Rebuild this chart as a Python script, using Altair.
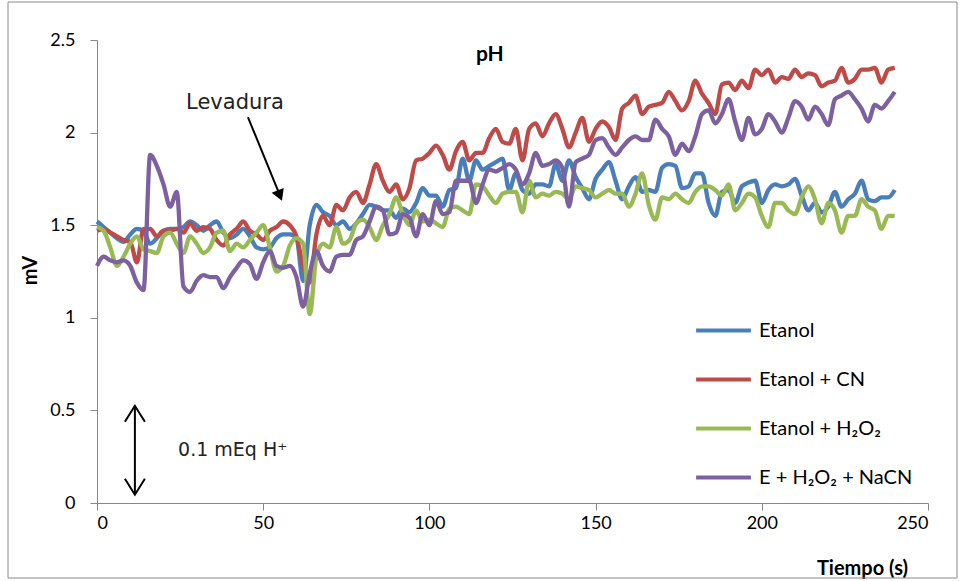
import altair as alt
import pandas as pd

# time axis (s), sampled every 2 s
tiempo = list(range(0, 241, 2))

etanol = [1.52,1.49,1.46,1.43,1.41,1.45,1.48,1.47,1.40,1.43,1.47,1.48,1.48,1.49,1.52,1.50,
          1.47,1.50,1.52,1.46,1.43,1.45,1.48,1.44,1.38,1.37,1.38,1.43,1.45,1.45,1.43,1.20,
          1.50,1.61,1.57,1.55,1.50,1.52,1.48,1.51,1.56,1.61,1.60,1.58,1.58,1.54,1.59,1.57,
          1.62,1.70,1.66,1.66,1.60,1.69,1.70,1.86,1.74,1.85,1.80,1.82,1.84,1.86,
          1.69,1.78,1.69,1.67,1.72,1.72,1.71,1.83,1.74,1.85,1.76,1.70,1.64,1.75,1.80,1.84,
          1.74,1.64,1.71,1.76,1.68,1.69,1.68,1.81,1.83,1.82,1.70,1.71,1.78,1.78,1.62,
          1.55,1.68,1.69,1.62,1.71,1.73,1.74,1.62,1.69,1.72,1.71,1.72,1.75,1.66,1.58,1.62,
          1.57,1.60,1.68,1.60,1.64,1.67,1.74,1.64,1.63,1.65,1.65,1.69]

etanol_cn = [1.47,1.48,1.46,1.44,1.42,1.41,1.30,1.48,1.48,1.44,1.47,1.47,1.48,1.46,1.51,1.47,
             1.49,1.48,1.42,1.39,1.45,1.48,1.52,1.47,1.45,1.42,1.47,1.49,1.52,1.50,1.44,1.28,
             1.19,1.45,1.55,1.50,1.61,1.58,1.65,1.68,1.62,1.72,1.83,1.74,1.68,1.72,1.64,1.70,
             1.85,1.86,1.89,1.93,1.88,1.80,1.90,1.95,1.85,1.89,1.89,1.97,2.02,1.95,
             1.94,2.02,1.85,2.02,2.05,1.98,2.05,2.10,2.02,1.92,2.00,2.08,1.95,2.02,2.06,2.03,
             1.96,2.13,2.16,2.20,2.10,2.14,2.15,2.16,2.22,2.17,2.12,2.17,2.28,2.21,2.16,
             2.10,2.26,2.27,2.23,2.28,2.24,2.34,2.31,2.34,2.27,2.30,2.29,2.34,2.30,2.32,2.31,
             2.25,2.27,2.28,2.35,2.27,2.29,2.34,2.34,2.35,2.27,2.34,2.35]

etanol_h2o2 = [1.49,1.47,1.38,1.28,1.33,1.40,1.44,1.37,1.36,1.35,1.44,1.46,1.40,1.35,1.44,1.40,
               1.35,1.38,1.46,1.47,1.36,1.40,1.38,1.42,1.46,1.50,1.38,1.25,1.28,1.39,1.43,1.40,
               1.02,1.33,1.40,1.38,1.49,1.40,1.42,1.51,1.53,1.49,1.42,1.50,1.56,1.65,1.56,1.50,
               1.58,1.52,1.53,1.51,1.49,1.59,1.60,1.58,1.56,1.72,1.71,1.66,1.62,1.67,
               1.68,1.68,1.57,1.74,1.65,1.67,1.66,1.68,1.67,1.64,1.71,1.70,1.69,1.65,1.67,1.69,
               1.67,1.67,1.60,1.67,1.78,1.61,1.53,1.65,1.64,1.67,1.64,1.62,1.68,1.71,1.71,
               1.69,1.66,1.72,1.58,1.62,1.67,1.65,1.55,1.49,1.62,1.62,1.58,1.56,1.65,1.71,1.64,
               1.51,1.62,1.58,1.46,1.55,1.55,1.64,1.60,1.58,1.48,1.55,1.55]

e_h2o2_nacn = [1.28,1.33,1.31,1.30,1.31,1.28,1.19,1.15,1.88,1.82,1.72,1.60,1.68,1.17,1.14,1.20,
               1.23,1.22,1.22,1.16,1.22,1.27,1.31,1.29,1.21,1.30,1.36,1.28,1.27,1.28,1.22,1.06,
               1.24,1.36,1.28,1.25,1.33,1.34,1.34,1.42,1.44,1.52,1.60,1.58,1.45,1.46,1.56,1.54,
               1.44,1.56,1.50,1.63,1.56,1.57,1.74,1.74,1.74,1.62,1.72,1.80,1.79,1.81,
               1.83,1.80,1.72,1.78,1.89,1.82,1.83,1.85,1.81,1.60,1.84,1.86,1.88,1.96,1.97,1.92,
               1.88,1.92,1.96,1.98,1.96,1.96,2.07,2.02,1.98,1.88,1.94,1.90,1.98,2.10,2.12,
               2.05,2.10,2.18,2.06,1.96,2.08,1.99,2.02,2.10,2.06,2.00,2.08,2.17,2.14,2.07,2.14,
               2.10,2.04,2.18,2.20,2.22,2.18,2.13,2.06,2.15,2.13,2.17,2.22]

series_names = ["Etanol", "Etanol + CN", "Etanol + H\u2082O\u2082", "E + H\u2082O\u2082 + NaCN"]
series_values = [etanol, etanol_cn, etanol_h2o2, e_h2o2_nacn]
series_colors = ["#4A7EBB", "#BE4B48", "#98B954", "#7D60A0"]

x_ticks = [0, 50, 100, 150, 200, 250]
y_ticks = [0, 0.5, 1, 1.5, 2, 2.5]

rows = []
for i, (name, vals) in enumerate(zip(series_names, series_values)):
    for t, v in zip(tiempo, vals):
        rows.append({"t": t, "v": v, "serie": name, "orden": i})
df = pd.DataFrame(rows)

xs = alt.Scale(domain=[0, 250], nice=False)
ys = alt.Scale(domain=[0, 2.5], nice=False)

lines = alt.Chart(df).mark_line(interpolate="monotone", strokeWidth=4.3).encode(
    x=alt.X("t:Q", scale=xs,
            axis=alt.Axis(values=x_ticks, title="Tiempo (s)", grid=False,
                          domainColor="#878787", tickColor="#878787", tickSize=7,
                          labelFont="Lato", labelFontSize=18, labelColor="#000",
                          labelPadding=4, titleFont="Lato", titleFontSize=20,
                          titleFontWeight="bold", titleColor="#000",
                          titleX=765, titleY=65, titleAlign="center",
                          titleBaseline="middle")),
    y=alt.Y("v:Q", scale=ys,
            axis=alt.Axis(values=y_ticks, format="~g", title="mV", grid=False,
                          domainColor="#878787", tickColor="#878787", tickSize=7,
                          labelFont="Lato", labelFontSize=18, labelColor="#000",
                          labelPadding=15, titleFont="Lato", titleFontSize=20,
                          titleFontWeight="bold", titleColor="#000",
                          titleX=-67, titleY=230, titleAngle=270,
                          titleAlign="center", titleBaseline="middle")),
    color=alt.Color("serie:N",
                    scale=alt.Scale(domain=series_names, range=series_colors),
                    sort=series_names,
                    legend=alt.Legend(orient="none", legendX=597, legendY=261,
                                      title=None, symbolType="stroke",
                                      symbolSize=3000, symbolStrokeWidth=3.8,
                                      labelFont="Lato", labelFontSize=20,
                                      labelColor="#000", labelLimit=400,
                                      labelOffset=6, rowPadding=9)),
    order=alt.Order("orden:Q"),
    detail="serie:N",
)

# annotations
ann_text = pd.DataFrame({"t": [41.5], "v": [2.16], "txt": ["Levadura"]})
levadura = alt.Chart(ann_text).mark_text(font="DejaVu Sans", fontSize=21,
                                         color="#222", align="center",
                                         baseline="middle").encode(
    x=alt.X("t:Q", scale=xs), y=alt.Y("v:Q", scale=ys), text="txt:N")

arrow_line = pd.DataFrame({"t": [45.4], "v": [2.084], "t2": [54.6], "v2": [1.68]})
arrow1 = alt.Chart(arrow_line).mark_rule(color="#000", strokeWidth=2).encode(
    x=alt.X("t:Q", scale=xs), y=alt.Y("v:Q", scale=ys), x2="t2:Q", y2="v2:Q")
arrow_head = pd.DataFrame({"t": [55.0], "v": [1.66]})
head1 = alt.Chart(arrow_head).mark_point(shape="triangle-up", filled=True,
                                         color="#000", size=170, angle=158,
                                         opacity=1).encode(
    x=alt.X("t:Q", scale=xs), y=alt.Y("v:Q", scale=ys))

scale_bar = pd.DataFrame({"t": [11.4], "v": [0.045], "v2": [0.525]})
bar = alt.Chart(scale_bar).mark_rule(color="#000", strokeWidth=2).encode(
    x=alt.X("t:Q", scale=xs), y=alt.Y("v:Q", scale=ys), y2="v2:Q")
top_head = alt.Chart(pd.DataFrame({"t": [11.4], "v": [0.525]})).mark_point(
    shape="M-1,1.6L0,0L1,1.6", filled=False, color="#000", strokeWidth=2,
    size=400, opacity=1).encode(x=alt.X("t:Q", scale=xs), y=alt.Y("v:Q", scale=ys))
bot_head = alt.Chart(pd.DataFrame({"t": [11.4], "v": [0.045]})).mark_point(
    shape="M-1,-1.6L0,0L1,-1.6", filled=False, color="#000", strokeWidth=2,
    size=400, opacity=1).encode(x=alt.X("t:Q", scale=xs), y=alt.Y("v:Q", scale=ys))

meq = alt.Chart(pd.DataFrame({"t": [24.4], "v": [0.286], "txt": ["0.1 mEq H\u207a"]})).mark_text(
    font="DejaVu Sans", fontSize=19, color="#222", align="left",
    baseline="middle").encode(x=alt.X("t:Q", scale=xs), y=alt.Y("v:Q", scale=ys), text="txt:N")

ph = alt.Chart(pd.DataFrame({"t": [118.2], "v": [2.42], "txt": ["pH"]})).mark_text(
    font="Lato", fontSize=21, fontWeight="bold", color="#000", align="center",
    baseline="middle").encode(x=alt.X("t:Q", scale=xs), y=alt.Y("v:Q", scale=ys), text="txt:N")

border = alt.Chart(pd.DataFrame({"a": [0]})).mark_rect(
    fill="transparent", stroke="#888888", strokeWidth=1).encode(
    x=alt.value(-89), x2=alt.value(860), y=alt.value(-38), y2=alt.value(538))

chart = alt.layer(border, lines, levadura, arrow1, head1, bar, top_head, bot_head, meq, ph).properties(
    width=831, height=463,
    autosize=alt.AutoSizeParams(type="none"),
    padding={"left": 97, "top": 40, "right": 33, "bottom": 78},
    background="white",
).configure_view(strokeWidth=0)

chart.save("out.html", embed_options={"renderer": "svg", "actions": False})
